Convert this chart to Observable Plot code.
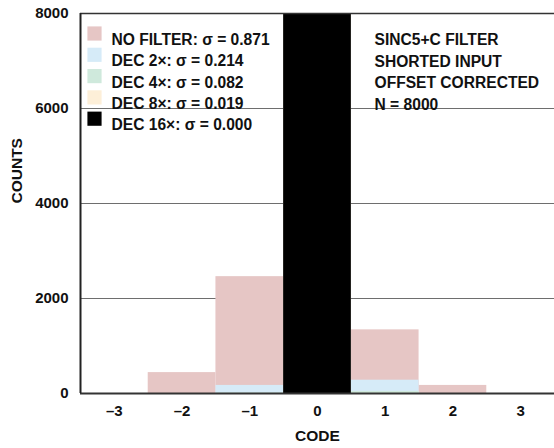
<!DOCTYPE html>
<html>
<head>
<meta charset="utf-8">
<script src="https://cdn.jsdelivr.net/npm/d3@7"></script>
<script src="https://cdn.jsdelivr.net/npm/@observablehq/plot@0.6"></script>
<style>
  html, body { margin: 0; padding: 0; background: #fff; }
</style>
</head>
<body>
<div id="chart"></div>
<script>
const codes = [-3, -2, -1, 0, 1, 2, 3];
const noFilter = [0, 440, 2460, 3590, 1340, 170, 0];
const dec2 = [0, 0, 170, 7550, 280, 0, 0];
const dec4 = [0, 0, 10, 7946, 44, 0, 0];
const dec8 = [0, 0, 1, 7997, 2, 0, 0];
const dec16 = [0, 0, 0, 8000, 0, 0, 0];
const seriesNames = ["NO FILTER: σ = 0.871", "DEC 2×: σ = 0.214", "DEC 4×: σ = 0.082", "DEC 8×: σ = 0.019", "DEC 16×: σ = 0.000"];
const seriesColors = ["#e6c6c5", "#d6ebf8", "#cfe9dc", "#fdefd8", "#000000"];
const yTicks = [0, 2000, 4000, 6000, 8000];
const gridTicks = [2000, 4000, 6000];
const notes = ["SINC5+C FILTER", "SHORTED INPUT", "OFFSET CORRECTED", "N = 8000"];
const xTitle = "CODE";
const yTitle = "COUNTS";

const seriesValues = [noFilter, dec2, dec4, dec8, dec16];
const FONT = "'Liberation Sans', Arial, sans-serif";

const barMarks = seriesValues.map((vals, s) =>
  Plot.rectY(codes, {
    x1: d => d - 0.5,
    x2: d => d + 0.5,
    y1: 0,
    y2: (d, i) => vals[i],
    fill: seriesColors[s],
    inset: 0
  })
);

const legendMarks = seriesNames.flatMap((name, i) => [
  Plot.dot([name], {frameAnchor: "top-left", dx: 14, dy: 20 + 21.3 * i, symbol: "square", r: 8, fill: seriesColors[i], stroke: "none"}),
  Plot.text([name], {frameAnchor: "top-left", dx: 31, dy: 20.5 + 21.3 * i, text: d => d, textAnchor: "start", fontSize: 15.6, fontWeight: "bold", fill: "#111"})
]);

const noteMarks = notes.map((t, i) =>
  Plot.text([t], {frameAnchor: "top-left", dx: 294, dy: 20.5 + 21.5 * i, text: d => d, textAnchor: "start", fontSize: 15.6, fontWeight: "bold", fill: "#111"})
);

const titleMarks = [
  Plot.text([xTitle], {frameAnchor: "bottom", dy: 47, text: d => d, fontSize: 15.5, fontWeight: "bold", fill: "#111"}),
  Plot.text([yTitle], {frameAnchor: "left", dx: -63, rotate: -90, text: d => d, fontSize: 15.5, fontWeight: "bold", fill: "#111"})
];

const chart = Plot.plot({
  width: 554,
  height: 448,
  marginLeft: 80,
  marginRight: 0,
  marginTop: 13,
  marginBottom: 55,
  style: {fontFamily: FONT, fontSize: "15px", fontWeight: "bold", color: "#111", background: "#fff", overflow: "visible"},
  x: {
    domain: [-3.5, 3.5],
    ticks: codes,
    tickFormat: d => String(d).replace("-", "–"),
    tickSize: 0,
    tickPadding: 12,
    label: null
  },
  y: {
    domain: [0, 8000],
    ticks: yTicks,
    tickFormat: d => String(d),
    tickSize: 0,
    tickPadding: 12,
    label: null
  },
  marks: [
    Plot.ruleY(gridTicks, {stroke: "#6e6e6e", strokeWidth: 1}),
    ...barMarks,
    Plot.ruleY([8000], {stroke: "#333", strokeWidth: 1.5}),
    Plot.ruleY([0], {stroke: "#333", strokeWidth: 2}),
    Plot.ruleX([-3.5], {stroke: "#222", strokeWidth: 2}),
    ...legendMarks,
    ...noteMarks,
    ...titleMarks
  ]
});
document.getElementById("chart").appendChild(chart);
</script>
</body>
</html>
